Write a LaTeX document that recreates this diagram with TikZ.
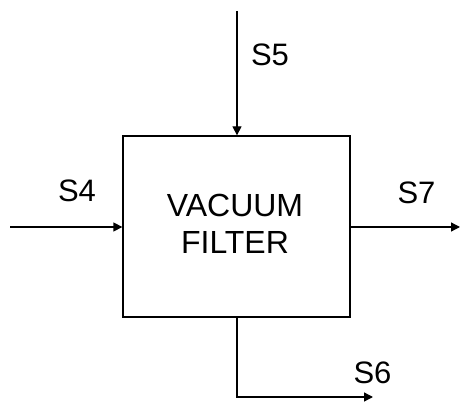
\documentclass[tikz,border=0pt]{standalone}
\usepackage{fontspec}
\setmainfont{Liberation Sans}
\usetikzlibrary{arrows.meta}
\begin{document}
\begin{tikzpicture}[x=1pt,y=-1pt,
  flow/.style={line width=1.3pt,-{Triangle[length=9pt,width=9pt]}},
  lbl/.style={font=\fontsize{31}{34}\selectfont,inner sep=0pt},
  unit/.style={draw,line width=1.3pt,minimum width=227pt,minimum height=181pt,inner sep=0pt},
  unittext/.style={align=center,inner sep=0pt,font=\fontsize{32}{37}\selectfont}]
\useasboundingbox (0,0) rectangle (461,403);
\node[unit] (vf) at (236.5,226.5) {};
\node[unittext] (vft) at (235,224) {VACUUM\\FILTER};
\coordinate (s5start) at (237,11);
\coordinate (s4start) at (10,227);
\coordinate (s7end) at (460,227);
\coordinate (s6end) at (373,397);
\draw[flow] (s5start) -- (s5start |- vf.north);
\draw[flow] (s4start) -- (s4start -| vf.west);
\draw[flow] (s4start -| vf.east) -- (s7end);
\draw[flow] (s5start |- vf.south) |- (s6end);
\begin{scope}
\clip (240,30) rectangle (287,85);
\node[lbl] (l5) at (270,55) {S5};
\end{scope}
\node[lbl] (l4) at (77,191) {S4};
\node[lbl] (l7) at (416.5,192.5) {S7};
\node[lbl] (l6) at (372.5,373) {S6};
\end{tikzpicture}
\end{document}
